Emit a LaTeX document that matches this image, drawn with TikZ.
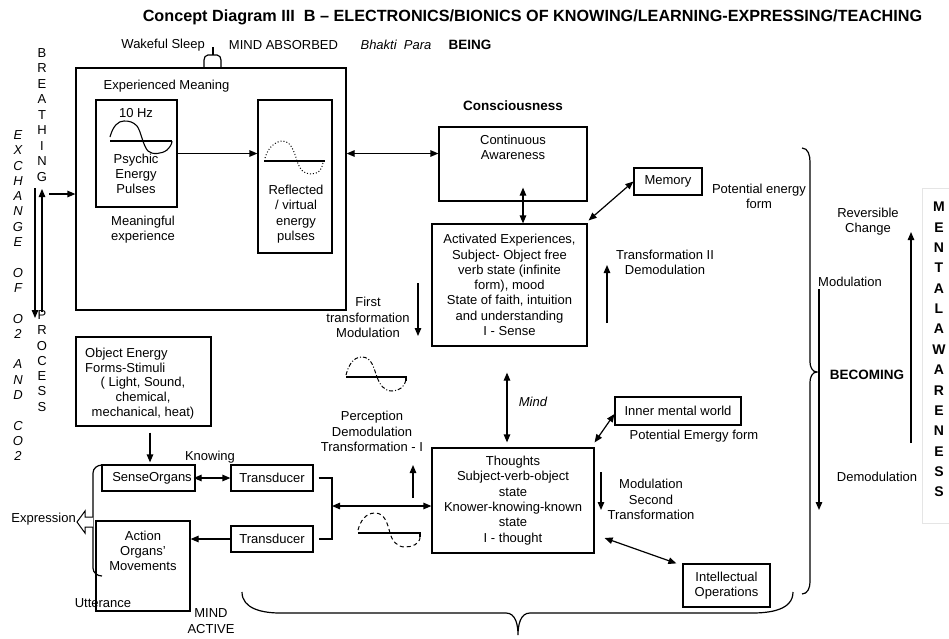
\documentclass[tikz,border=0pt]{standalone}
\usepackage{fontspec}
\setmainfont{Liberation Sans}
\usetikzlibrary{arrows.meta,fit,calc}

\begin{document}
\begin{tikzpicture}[x=1pt,y=-1pt,
  every node/.style={inner sep=0pt,font=\fontsize{13}{15.3}\selectfont},
  bold/.style={font=\fontsize{13.5}{16}\selectfont\bfseries},
  ital/.style={font=\fontsize{13}{15.3}\selectfont\itshape},
  lbl/.style={align=center},
  framebox/.style={draw,line width=1.2pt},
  tbox/.style={draw,line width=1.2pt,align=center},
  arr/.style={line width=1.2pt,-{Triangle[length=8pt,width=6.5pt]}},
  darr/.style={line width=1.2pt,{Triangle[length=8pt,width=6.5pt]}-{Triangle[length=8pt,width=6.5pt]}},
  thin line/.style={line width=1.2pt},
  wave/.style={line width=1.1pt},
]
\useasboundingbox (0,0) rectangle (949,638);

% ---------- title and top line ----------
\node[font=\fontsize{16.2}{19}\selectfont\bfseries] (title) at (532.5,17)
  {Concept Diagram III\ \ B – ELECTRONICS/BIONICS OF KNOWING/LEARNING-EXPRESSING/TEACHING};
\node[anchor=east] (wake) at (205,45) {Wakeful Sleep};
\node (absorbed) at (283.5,45) {MIND ABSORBED};
\node[ital] (bhakti) at (396,45) {Bhakti\ \ Para};
\node[bold] (being) at (470,45) {BEING};

% ---------- being block ----------
\coordinate (outerA) at (76,68);
\coordinate (outerB) at (346,310);
\node[framebox,fit=(outerA)(outerB)] (outer) {};
\draw[thin line] (204,68) -- (204,60) to[out=90,in=180] (208,55) -- (217,55)
  to[out=0,in=90] (221,60) -- (221,68);
\draw[thin line] (213,55) -- (213,47);
\node (expmean) at (166.5,86) {Experienced Meaning};

\coordinate (psyA) at (96,100);
\coordinate (psyB) at (177,207);
\node[framebox,fit=(psyA)(psyB)] (psychic) {};
\node (hz) at (136,113) {10 Hz};
\draw[wave] (110,141) -- (172,141);
\draw[wave] (110,137) .. controls (113,126) and (118,121) .. (124,121)
  .. controls (130,121) and (133,122) .. (137,126)
  .. controls (141,131) and (143,146) .. (148,151)
  .. controls (152,155) and (162,154) .. (167,150)
  .. controls (170,147) and (172,144) .. (172,141);
\node[lbl] (psylbl) at (136,174) {Psychic\\Energy\\Pulses};
\node[lbl] (meanexp) at (143,229.5) {Meaningful\\experience};

\coordinate (refA) at (258,100);
\coordinate (refB) at (332,253);
\node[framebox,fit=(refA)(refB)] (reflect) {};
\draw[wave] (264,161) -- (325,161);
\draw[line width=1pt,dotted] (265,158) .. controls (268,147) and (276,141) .. (283,141)
  .. controls (290,141) and (294,150) .. (297,161)
  .. controls (300,170) and (304,174) .. (311,174)
  .. controls (318,174) and (322,170) .. (323,163);
\node[lbl] (reflbl) at (296,214) {Reflected\\/ virtual\\energy\\pulses};

\draw[arr] (psychic.east) -- (psychic.east -| reflect.west);

% ---------- breathing ----------
\foreach \l [count=\i from 0] in {B,R,E,A,T,H,I,N,G}
  \node (br\i) at (42,{53+15.5*\i}) {\l};
\foreach \l [count=\i from 0] in {P,R,O,C,E,S,S}
  \node (pr\i) at (42,{315+15.3*\i}) {\l};
\foreach \s/\l in {0/E,1/X,2/C,3/H,4/A,5/N,6/G,7/E,9/O,10/F,12/O,13/2,15/A,16/N,17/D,19/C,20/O,21/2}
  \node[ital] (ex\s) at (18,{135+15.3*\s}) {\l};
\coordinate (inA) at (35,188);
\coordinate (inB) at (35,318);
\coordinate (upA) at (42,312);
\coordinate (upB) at (42,189);
\coordinate (brin) at (49,194);
\draw[arr] (inA) -- (inB);
\draw[arr] (upA) -- (upB);
\draw[arr] (brin) -- (brin -| outer.west);

% ---------- consciousness ----------
\node[bold] (consc) at (513,106) {Consciousness};
\coordinate (contA) at (439,127);
\coordinate (contB) at (587,201);
\node[framebox,fit=(contA)(contB)] (cont) {};
\node[lbl] (contlbl) at (513,147.5) {Continuous\\Awareness};
\draw[darr] (outer.east |- psychic.east) -- (cont.west |- psychic.east);

\node[tbox,minimum width=155pt,minimum height=122pt] (act) at (509.5,285)
  {Activated Experiences,\\Subject- Object free\\verb state (infinite\\form), mood\\State of faith, intuition\\and understanding\\I - Sense};
\draw[darr] ([xshift=10pt,yshift=14pt]cont.south) -- ([xshift=13.5pt]act.north);

\node[tbox,minimum width=68pt,minimum height=27pt] (memory) at (668,181.5) {Memory};
\draw[darr] ([xshift=1pt,yshift=3pt]act.north east) -- (memory.west);
\node[lbl] (potential) at (759,196) {Potential energy\\form};

\node[lbl] (trans2lbl) at (665,262.5) {Transformation II\\Demodulation};
\coordinate (t2a) at (607,323);
\coordinate (t2b) at (607,265);
\draw[arr] (t2a) -- (t2b);

\node[lbl] (firstlbl) at (368,317.5) {First\\transformation\\Modulation};
\coordinate (m1a) at (418,283);
\coordinate (m1b) at (418,336);
\draw[arr] (m1a) -- (m1b);

% dash-dot wave
\draw[wave] (346,377) -- (406,377) -- (406,381);
\draw[line width=1pt,dash pattern=on 4pt off 2pt on 1pt off 2pt]
  (346,375) to[out=75,in=180] (362,357) to[out=0,in=110] (377,377)
  to[out=-70,in=180] (392,391) to[out=0,in=-100] (406,380);

% ---------- mind ----------
\node[ital] (mind) at (533,402) {Mind};
\node[tbox,minimum width=162pt,minimum height=105pt] (thought) at (513,500.5)
  {Thoughts\\Subject-verb-object\\state\\Knower-knowing-known\\state\\I - thought};
\draw[darr] ([xshift=-2.5pt,yshift=-26pt]act.south) -- ([xshift=-6pt,yshift=5pt]thought.north);

\node[tbox,minimum width=126pt,minimum height=28pt] (inner) at (678,411) {Inner mental world};
\draw[darr] ([yshift=5pt]thought.north east) -- ([yshift=-3pt]inner.west);
\node (emergy) at (694,436) {Potential Emergy form};

\node[lbl] (mod2lbl) at (651,499.5) {Modulation\\Second\\Transformation};
\coordinate (m2a) at (601,472);
\coordinate (m2b) at (601,510);
\draw[arr] (m2a) -- (m2b);

\node[tbox,minimum width=87pt,minimum height=43pt] (intel) at (726.5,585.5) {Intellectual\\Operations};
\draw[darr] ([xshift=10pt,yshift=-37.5pt]thought.east) -- ([xshift=-6pt]intel.north west);

\node[lbl] (perclbl) at (372,431.5) {Perception\\Demodulation\\Transformation - I};
\coordinate (pa) at (413,498);
\coordinate (pb) at (413,465);
\draw[arr] (pa) -- (pb);

% dashed wave
\draw[wave] (358,533) -- (420,533) -- (420,537);
\draw[line width=1pt,dash pattern=on 4pt off 3pt]
  (358,530) to[out=75,in=180] (375,513) to[out=0,in=105] (390,533)
  to[out=-75,in=180] (405,547) to[out=0,in=-90] (420,537);

% ---------- senses and action ----------
\coordinate (objA) at (76,337);
\coordinate (objB) at (211,426);
\node[framebox,fit=(objA)(objB)] (object) {};
\node[align=left,anchor=west] (objlbl) at (85,360) {Object Energy\\Forms-Stimuli};
\node[lbl] (objlbl2) at (143,398) {( Light, Sound,\\chemical,\\mechanical, heat)};

\node[tbox,minimum width=93pt,minimum height=26pt] (sense) at (148.5,478) {};
\node (senselbl) at (152,478) {SenseOrgans};
\draw[arr] ([xshift=6.5pt,yshift=-6pt]object.south) -- ([xshift=1.5pt,yshift=2pt]sense.north);
\node (knowing) at (210,457) {Knowing};

\node[tbox,minimum width=82pt,minimum height=26pt] (trans1) at (272,478) {Transducer};
\node[tbox,minimum width=82pt,minimum height=26pt] (trans2) at (272,539) {Transducer};
\draw[darr] ([xshift=-2pt]sense.east) -- (trans1.west);

\coordinate (actA) at (96,521);
\coordinate (actB) at (190,611);
\node[framebox,fit=(actA)(actB)] (action) {};
\node[lbl] (actlbl) at (143,551) {Action\\Organs’\\Movements};
\draw[arr] (trans2.west) -- (trans2.west -| action.east);

\coordinate (brk) at (332,506);
\draw[thin line] ([xshift=5pt]trans1.east) -| (brk) |- ([xshift=5pt]trans2.east);
\draw[darr] (brk) -- (brk -| thought.west);

% expression brace with hollow arrow
\draw[thin line] (102,465) to[out=180,in=90] (93,473) -- (93,568) to[out=-90,in=180] (102,576);
\draw[line width=1pt,fill=white] (93,517) -- (85,517) -- (85,511) -- (77,522)
  -- (85,533) -- (85,527) -- (93,527);
\node[anchor=east] (expression) at (76,519) {Expression};
\node (utter) at (103,603) {Utterance};
\node[lbl] (mindact) at (211,621) {MIND\\ACTIVE};

% ---------- braces ----------
\draw[thin line] (242,592) to[out=-90,in=180] (280,613) -- (506,613)
  to[out=0,in=90] (518,635) to[out=90,in=180] (530,613) -- (752,613)
  to[out=0,in=-90] (793,592);
\draw[thin line] (802,148) to[out=0,in=90] (810,162) -- (810,362)
  to[out=-90,in=180] (817,372) to[out=180,in=90] (810,382) -- (810,582)
  to[out=-90,in=0] (802,594);

% ---------- becoming ----------
\node[lbl] (revlbl) at (868,221.5) {Reversible\\Change};
\node (modlbl) at (850,282) {Modulation};
\node[bold] (becoming) at (867,375) {BECOMING};
\node (demodlbl) at (877,477) {Demodulation};
\coordinate (ra) at (911,443);
\coordinate (rb) at (911,232);
\draw[arr] (ra) -- (rb);
\coordinate (da) at (819,289);
\coordinate (db) at (819,510);
\draw[arr] (da) -- (db);

\draw[gray!20,line width=0.6pt] (955,188) -- (922,188) -- (922,523) -- (955,523);
\foreach \l [count=\i from 0] in {M,E,N,T,A,L,A,W,A,R,E,N,E,S,S}
  \node[font=\fontsize{14}{16}\selectfont\bfseries] (ma\i) at (939,{207+20.36*\i}) {\l};
\end{tikzpicture}
\end{document}
